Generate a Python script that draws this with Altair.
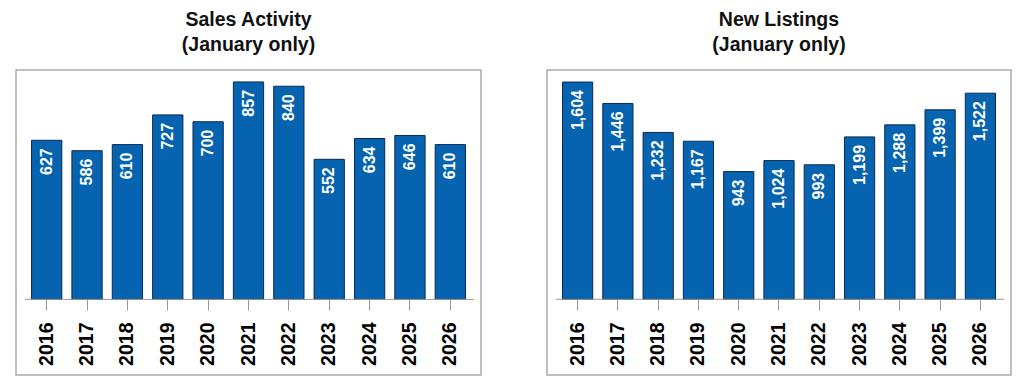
import altair as alt
import pandas as pd

years = ["2016", "2017", "2018", "2019", "2020", "2021", "2022", "2023", "2024", "2025", "2026"]
sales = [627, 586, 610, 727, 700, 857, 840, 552, 634, 646, 610]
listings = [1604, 1446, 1232, 1167, 943, 1024, 993, 1199, 1288, 1399, 1522]

BAR = "#0563B0"
FONT = "Liberation Sans"


def panel(values, title, ymin, ymax, width):
    df = pd.DataFrame({"year": years, "value": values})
    df["label"] = df["value"].map(lambda v: f"{v:,}")
    x = alt.X(
        "year:N",
        scale=alt.Scale(paddingInner=0.25, paddingOuter=0.385),
        axis=alt.Axis(
            title=None,
            orient="bottom",
            offset=-76,
            labelAngle=-90,
            labelFontSize=19.5,
            labelFontWeight="bold",
            labelFont=FONT,
            labelColor="#000000",
            labelPadding=12,
            tickSize=11,
            tickColor="#999999",
            domain=False,
        ),
    )
    y = alt.Y(
        "value:Q",
        scale=alt.Scale(domain=[ymin, ymax], nice=False, zero=False),
        axis=None,
    )
    base = alt.Chart(df)
    bars = base.mark_bar(color=BAR, stroke="#0b2a52", strokeWidth=1).encode(
        x=x, y=y, y2=alt.datum(0)
    )
    text = base.mark_text(
        angle=270,
        align="right",
        baseline="middle",
        dx=-8,
        color="white",
        fontWeight="bold",
        fontSize=16,
        font=FONT,
    ).encode(x=alt.X("year:N"), y=alt.Y("value:Q"), text="label:N")
    rule = alt.Chart(pd.DataFrame({"z": [0]})).mark_rule(color="#999999", strokeWidth=1).encode(
        x=alt.value(9), x2=alt.value(width - 7), y=alt.Y("z:Q")
    )
    return alt.layer(bars, text, rule).properties(
        width=width,
        height=305,
        title=alt.TitleParams(
            text=title,
            fontSize=19.5,
            fontWeight="bold",
            font=FONT,
            color="#111111",
            anchor="middle",
            lineHeight=25,
            offset=15,
        ),
    )


left = panel(sales, ["Sales Activity", "(January only)"], -298, 904, 465)
right = panel(listings, ["New Listings", "(January only)"], -559, 1693, 464)

chart = (
    alt.hconcat(left, right, spacing=64)
    .resolve_scale(y="independent")
    .properties(padding={"left": 7, "top": 0, "right": 0, "bottom": 0})
    .configure_view(stroke="#aaaaaa", strokeWidth=1.5)
)

chart.save("out.html", embed_options={"renderer": "svg", "actions": False})
